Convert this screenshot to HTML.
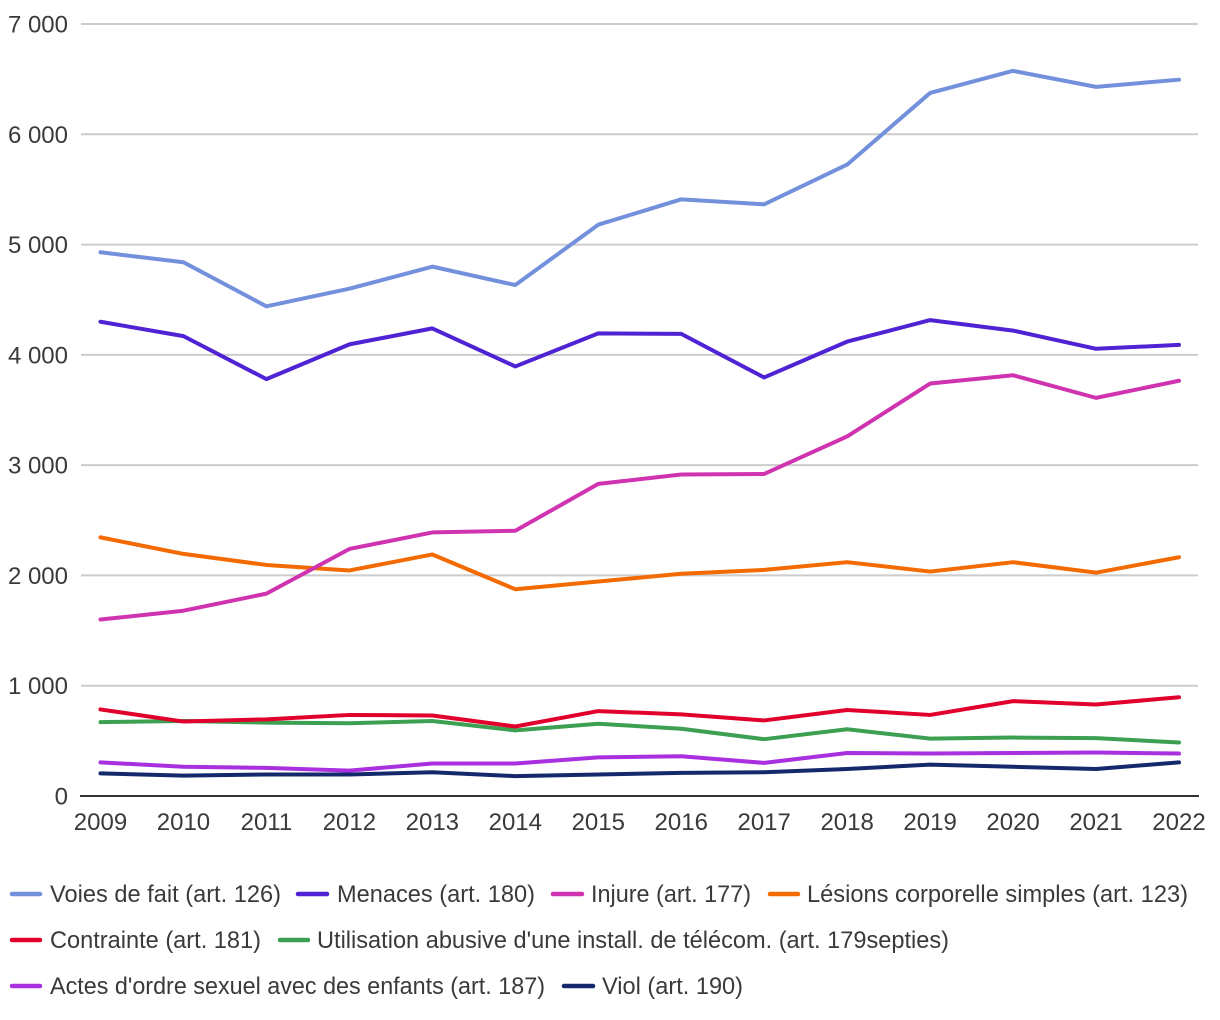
<!DOCTYPE html>
<html lang="fr">
<head>
<meta charset="utf-8">
<title>Infractions 2009-2022</title>
<style>
html,body{margin:0;padding:0;background:#fff;}
svg{display:block;}
text{font-family:"Liberation Sans",Arial,sans-serif;font-size:24px;fill:#3a3a3a;}
.series{fill:none;stroke-width:4;stroke-linejoin:round;stroke-linecap:round;}
.key{stroke-width:4.5;stroke-linecap:round;}
</style>
</head>
<body>
<svg id="chart" xmlns="http://www.w3.org/2000/svg" width="1220" height="1020" viewBox="0 0 1220 1020">
  <g id="grid"></g>
  <g id="yticks"></g>
  <g id="xticks"></g>
  <g id="lines"></g>
  <g>
    <g>
      <line class="key" x1="12" y1="894" x2="40" y2="894" stroke="#7390DC"/>
      <text x="50" y="902" textLength="231" lengthAdjust="spacingAndGlyphs">Voies de fait (art. 126)</text>
    </g>
    <g>
      <line class="key" x1="298" y1="894" x2="327" y2="894" stroke="#4F22D4"/>
      <text x="337" y="902" textLength="198" lengthAdjust="spacingAndGlyphs">Menaces (art. 180)</text>
    </g>
    <g>
      <line class="key" x1="553" y1="894" x2="582" y2="894" stroke="#D033B0"/>
      <text x="591" y="902" textLength="160" lengthAdjust="spacingAndGlyphs">Injure (art. 177)</text>
    </g>
    <g>
      <line class="key" x1="770" y1="894" x2="798" y2="894" stroke="#F26A00"/>
      <text x="807" y="902" textLength="381" lengthAdjust="spacingAndGlyphs">Lésions corporelle simples (art. 123)</text>
    </g>
    <g>
      <line class="key" x1="12" y1="940" x2="40" y2="940" stroke="#E0002B"/>
      <text x="50" y="948" textLength="211" lengthAdjust="spacingAndGlyphs">Contrainte (art. 181)</text>
    </g>
    <g>
      <line class="key" x1="280" y1="940" x2="308" y2="940" stroke="#3C9F52"/>
      <text x="317" y="948" textLength="632" lengthAdjust="spacingAndGlyphs">Utilisation abusive d'une install. de télécom. (art. 179septies)</text>
    </g>
    <g>
      <line class="key" x1="12" y1="986" x2="40" y2="986" stroke="#A830DE"/>
      <text x="50" y="994" textLength="495" lengthAdjust="spacingAndGlyphs">Actes d'ordre sexuel avec des enfants (art. 187)</text>
    </g>
    <g>
      <line class="key" x1="564" y1="986" x2="593" y2="986" stroke="#13296B"/>
      <text x="602" y="994" textLength="141" lengthAdjust="spacingAndGlyphs">Viol (art. 190)</text>
    </g>
  </g>
</svg>
<script>
const years = [2009,2010,2011,2012,2013,2014,2015,2016,2017,2018,2019,2020,2021,2022];
const yTicks = [0,1000,2000,3000,4000,5000,6000,7000];
const yTickLabels = ["0","1 000","2 000","3 000","4 000","5 000","6 000","7 000"];
const voies = [4930,4840,4440,4600,4800,4633,5180,5410,5365,5725,6375,6575,6430,6495];
const menaces = [4300,4170,3780,4095,4240,3895,4195,4190,3795,4120,4315,4220,4055,4090];
const injure = [1600,1680,1835,2240,2390,2405,2830,2915,2920,3260,3740,3815,3610,3765];
const lesions = [2345,2195,2095,2045,2190,1875,1945,2015,2050,2120,2035,2120,2025,2165];
const contrainte = [785,675,695,735,730,630,770,740,685,780,735,860,830,895];
const utilisation = [670,680,665,660,680,595,655,610,515,605,520,530,525,485];
const actes = [305,265,255,230,295,295,350,360,300,390,385,390,395,385];
const viol = [205,185,195,195,215,180,195,210,215,245,285,265,245,305];

const NS = 'http://www.w3.org/2000/svg';
const xScale = function (i) { return 100.5 + (1179 - 100.5) * i / (years.length - 1); };
const yScale = function (v) { return 796 - (796 - 24) * v / 7000; };

const gridG = document.getElementById('grid');
const yG = document.getElementById('yticks');
const xG = document.getElementById('xticks');
const linesG = document.getElementById('lines');

yTicks.forEach(function (t, i) {
  if (t !== 0) {
    const gl = document.createElementNS(NS, 'line');
    
    
    gl.setAttribute('x1', 81);
    gl.setAttribute('x2', 1198);
    gl.setAttribute('y1', yScale(t));
    gl.setAttribute('y2', yScale(t));
    gl.setAttribute('stroke', '#cccccc');
    gl.setAttribute('stroke-width', 2);
    gridG.appendChild(gl);
  }
  const lb = document.createElementNS(NS, 'text');
  
  
  lb.setAttribute('x', 68);
  lb.setAttribute('y', yScale(t) + 8.5);
  lb.setAttribute('text-anchor', 'end');
  lb.textContent = yTickLabels[i];
  yG.appendChild(lb);
});

const axis = document.createElementNS(NS, 'line');


axis.setAttribute('x1', 80);
axis.setAttribute('x2', 1199);
axis.setAttribute('y1', yScale(0));
axis.setAttribute('y2', yScale(0));
axis.setAttribute('stroke', '#333333');
axis.setAttribute('stroke-width', 2);
gridG.appendChild(axis);

years.forEach(function (yr, i) {
  const lb = document.createElementNS(NS, 'text');
  
  
  lb.setAttribute('x', xScale(i));
  lb.setAttribute('y', 830);
  lb.setAttribute('text-anchor', 'middle');
  lb.textContent = yr;
  xG.appendChild(lb);
});

function drawSeries(name, values, color) {
  const p = document.createElementNS(NS, 'polyline');
  
  
  p.setAttribute('data-series', name);
  p.setAttribute('class', 'series');
  p.setAttribute('stroke', color);
  p.setAttribute('points', values.map(function (v, i) {
    return xScale(i).toFixed(2) + ',' + yScale(v).toFixed(2);
  }).join(' '));
  linesG.appendChild(p);
}

drawSeries('viol', viol, '#13296B');
drawSeries('actes', actes, '#A830DE');
drawSeries('utilisation', utilisation, '#3C9F52');
drawSeries('contrainte', contrainte, '#E0002B');
drawSeries('lesions', lesions, '#F26A00');
drawSeries('injure', injure, '#D033B0');
drawSeries('menaces', menaces, '#4F22D4');
drawSeries('voies', voies, '#7390DC');
</script>
</body>
</html>
